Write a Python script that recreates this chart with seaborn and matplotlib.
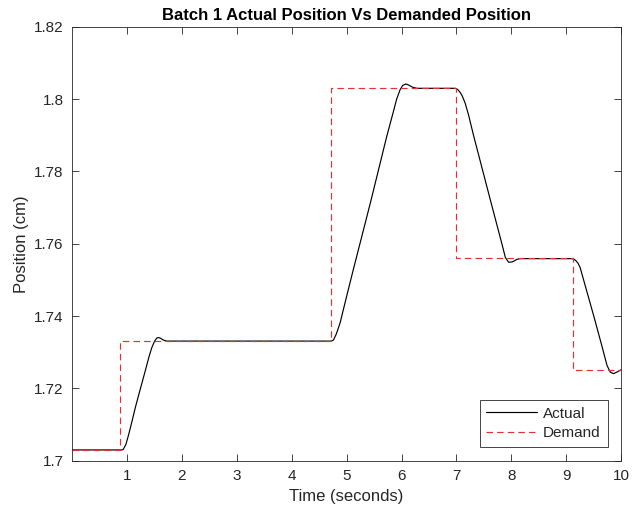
import matplotlib
matplotlib.use("Agg")
import matplotlib.pyplot as plt
import seaborn as sns
import pandas as pd

# Data
actual_t = [0.00, 0.90, 0.93, 0.98, 1.03, 1.09, 1.15, 1.24, 1.33, 1.40, 1.45, 1.50,
            1.54, 1.57, 1.61, 1.66, 1.72, 1.80, 4.72, 4.76, 4.81, 4.88, 5.00, 5.12,
            5.43, 5.73, 5.85, 5.91, 5.97, 6.02, 6.08, 6.13, 6.20, 6.28, 6.98, 7.02,
            7.07, 7.11, 7.16, 7.22, 7.31, 7.61, 7.83, 7.89, 7.95, 8.02, 8.10, 8.16,
            9.10, 9.13, 9.17, 9.21, 9.25, 9.50, 9.65, 9.74, 9.80, 9.86, 9.93, 10.00]
actual_y = [1.7030, 1.7030, 1.7031, 1.7045, 1.7072, 1.7108, 1.7146, 1.7197, 1.7247,
            1.7287, 1.7312, 1.7330, 1.7339, 1.7341, 1.7339, 1.7334, 1.7331, 1.7331,
            1.7331, 1.7334, 1.7350, 1.7381, 1.7455, 1.7528, 1.7712, 1.7897, 1.7965,
            1.8000, 1.8025, 1.8038, 1.8042, 1.8039, 1.8033, 1.8030, 1.8030, 1.8027,
            1.8018, 1.8007, 1.7988, 1.7956, 1.7900, 1.7725, 1.7598, 1.7562, 1.7549,
            1.7550, 1.7557, 1.7559, 1.7559, 1.7558, 1.7554, 1.7547, 1.7535, 1.7400,
            1.7316, 1.7264, 1.7245, 1.7241, 1.7246, 1.7252]

demand_t = [0.0, 0.875, 4.71, 6.99, 9.12, 10.0]
demand_y = [1.703, 1.733, 1.803, 1.756, 1.725, 1.725]

xticks = [1, 2, 3, 4, 5, 6, 7, 8, 9, 10]
yticks = [1.70, 1.72, 1.74, 1.76, 1.78, 1.80, 1.82]
ytick_labels = ["1.7", "1.72", "1.74", "1.76", "1.78", "1.8", "1.82"]

sns.set_style("white")
plt.rcParams["font.family"] = ["Liberation Sans", "DejaVu Sans"]

fig = plt.figure(figsize=(6.32, 5.16), dpi=100)
ax = fig.add_axes([0.114, 0.107, 0.869, 0.841])

df_a = pd.DataFrame({"t": actual_t, "y": actual_y})
df_d = pd.DataFrame({"t": demand_t, "y": demand_y})

sns.lineplot(data=df_a, x="t", y="y", ax=ax, color="black", linewidth=0.85,
             estimator=None, sort=False, label="Actual")
sns.lineplot(data=df_d, x="t", y="y", ax=ax, color="#e03232", linewidth=0.85,
             estimator=None, sort=False, drawstyle="steps-post",
             dashes=False, linestyle=(0, (5.5, 3.5)), label="Demand")

ax.set_xlim(0, 10)
ax.set_ylim(1.70, 1.82)
ax.set_xticks(xticks)
ax.set_xticklabels([str(v) for v in xticks])
ax.set_yticks(yticks)
ax.set_yticklabels(ytick_labels)

edge = "#262626"
for s in ax.spines.values():
    s.set_visible(True)
    s.set_color(edge)
    s.set_linewidth(0.6)
ax.tick_params(direction="in", length=5, width=0.6, color=edge,
               labelsize=11, labelcolor=edge, top=True, right=True,
               bottom=True, left=True, labeltop=False, labelright=False, pad=6)

ax.set_xlabel("Time (seconds)", fontsize=12, color=edge, labelpad=4)
ax.set_ylabel("Position (cm)", fontsize=12, color=edge, labelpad=4)
ax.set_title("Batch 1 Actual Position Vs Demanded Position", fontsize=12,
             fontweight="bold", color="black", pad=5)

leg = ax.legend(loc="lower right", fontsize=11, frameon=True, fancybox=False,
                edgecolor=edge, framealpha=1, borderpad=0.45, handlelength=3.3,
                handletextpad=0.4, labelspacing=0.35, borderaxespad=0.9)
leg.get_frame().set_linewidth(0.6)

fig.savefig("out.png", dpi=100, facecolor="white")
